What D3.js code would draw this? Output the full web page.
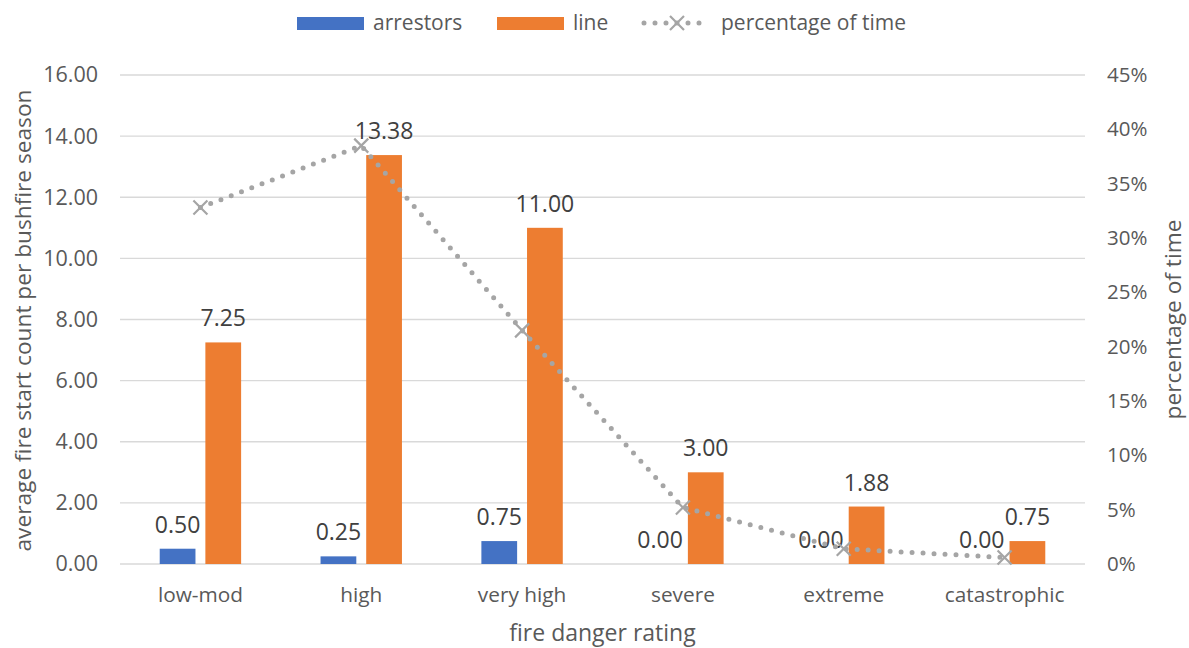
<!DOCTYPE html>
<html>
<head>
<meta charset="utf-8">
<script src="https://cdn.jsdelivr.net/npm/d3@7"></script>
<style>
  html, body { margin: 0; padding: 0; background: #fff; }
  svg { display: block; font-family: "Open Sans", sans-serif; }
</style>
</head>
<body>
<svg id="chart" width="1189" height="648"></svg>
<script>
// Fire danger rating categories
const categories = ["low-mod", "high", "very high", "severe", "extreme", "catastrophic"];
// Average fire start count per bushfire season, by cause
const arrestors = [0.50, 0.25, 0.75, 0.00, 0.00, 0.00];
const line = [7.25, 13.38, 11.00, 3.00, 1.88, 0.75];
// Share of time spent at each rating
const percentageOfTime = [0.328, 0.385, 0.215, 0.052, 0.014, 0.006];
// Axis ticks
const leftTicks = [0, 2, 4, 6, 8, 10, 12, 14, 16];
const rightTicks = [0, 0.05, 0.10, 0.15, 0.20, 0.25, 0.30, 0.35, 0.40, 0.45];

const seriesNames = ["arrestors", "line"];
const colors = { arrestors: "#4472c4", line: "#ed7d31", pct: "#a5a5a5" };
const textColor = "#595959";
const labelColor = "#404040";

const svg = d3.select("#chart");
const plot = { left: 120, right: 1085, top: 75, bottom: 564 };

const x0 = d3.scaleBand().domain(categories).range([plot.left, plot.right]).padding(0);
const x1 = d3.scaleBand().domain(seriesNames).range([0, x0.bandwidth()])
  .paddingInner(0.217).paddingOuter(0.87);
const yL = d3.scaleLinear().domain([0, 16]).range([plot.bottom, plot.top]);
const yR = d3.scaleLinear().domain([0, 0.45]).range([plot.bottom, plot.top]);

// Gridlines
svg.append("g").selectAll("line").data(leftTicks).join("line")
  .attr("x1", plot.left).attr("x2", plot.right)
  .attr("y1", d => yL(d)).attr("y2", d => yL(d))
  .attr("stroke", "#d9d9d9").attr("stroke-width", 1.3);

// Left axis
const leftAxis = svg.append("g")
  .attr("transform", `translate(${plot.left},0)`)
  .call(d3.axisLeft(yL).tickValues(leftTicks).tickFormat(d3.format(".2f")).tickSize(0).tickPadding(22));
leftAxis.select(".domain").remove();
leftAxis.selectAll("text").attr("font-size", 21.5).attr("fill", textColor)
  .attr("font-family", "'Open Sans', sans-serif");

// Right axis
const rightAxis = svg.append("g")
  .attr("transform", `translate(${plot.right},0)`)
  .call(d3.axisRight(yR).tickValues(rightTicks).tickFormat(d3.format(".0%")).tickSize(0).tickPadding(22));
rightAxis.select(".domain").remove();
rightAxis.selectAll("text").attr("font-size", 20.5).attr("fill", textColor)
  .attr("font-family", "'Open Sans', sans-serif");

// Bottom axis
const bottomAxis = svg.append("g")
  .attr("transform", `translate(0,${plot.bottom})`)
  .call(d3.axisBottom(x0).tickSize(0).tickPadding(23));
bottomAxis.select(".domain").remove();
bottomAxis.selectAll("text").attr("font-size", 20.8).attr("fill", textColor)
  .attr("font-family", "'Open Sans', sans-serif");

// Bars
const rows = categories.map((c, i) => ({ c, arrestors: arrestors[i], line: line[i] }));
const groups = svg.append("g").selectAll("g").data(rows).join("g")
  .attr("transform", d => `translate(${x0(d.c)},0)`);
groups.selectAll("rect").data(d => seriesNames.map(s => ({ s, v: d[s] }))).join("rect")
  .attr("x", d => x1(d.s)).attr("width", x1.bandwidth())
  .attr("y", d => yL(d.v)).attr("height", d => yL(0) - yL(d.v))
  .attr("fill", d => colors[d.s]);

// Percentage-of-time line (dotted with X markers)
const pts = categories.map((c, i) => [x0(c) + x0.bandwidth() / 2, yR(percentageOfTime[i])]);
svg.append("path")
  .attr("d", d3.line()(pts))
  .attr("fill", "none").attr("stroke", colors.pct).attr("stroke-width", 5)
  .attr("stroke-linecap", "round").attr("stroke-dasharray", "0,11");
const m = 7;
svg.append("g").selectAll("path").data(pts).join("path")
  .attr("d", p => `M${p[0]-m},${p[1]-m}L${p[0]+m},${p[1]+m}M${p[0]-m},${p[1]+m}L${p[0]+m},${p[1]-m}`)
  .attr("stroke", colors.pct).attr("stroke-width", 2.2).attr("fill", "none");

// Data labels
groups.selectAll("text.val").data(d => seriesNames.map(s => ({ s, v: d[s] }))).join("text")
  .attr("class", "val")
  .attr("x", d => x1(d.s) + x1.bandwidth() / 2)
  .attr("y", d => yL(d.v) - 16)
  .attr("text-anchor", "middle")
  .attr("font-size", 23).attr("fill", labelColor)
  .text(d => d3.format(".2f")(d.v));

// Axis titles
svg.append("text")
  .attr("transform", `translate(31,${(plot.top + plot.bottom) / 2 + 1}) rotate(-90)`)
  .attr("text-anchor", "middle").attr("font-size", 22.7).attr("fill", textColor)
  .text("average fire start count per bushfire season");
svg.append("text")
  .attr("transform", `translate(1181,${(plot.top + plot.bottom) / 2}) rotate(-90)`)
  .attr("text-anchor", "middle").attr("font-size", 22.7).attr("fill", textColor)
  .text("percentage of time");
svg.append("text")
  .attr("x", (plot.left + plot.right) / 2).attr("y", 641)
  .attr("text-anchor", "middle").attr("font-size", 23).attr("fill", textColor)
  .text("fire danger rating");

// Legend
const legend = svg.append("g");
const legendItems = [
  { name: "arrestors", x: 297, type: "bar", color: colors.arrestors },
  { name: "line", x: 497, type: "bar", color: colors.line },
  { name: "percentage of time", x: 644, type: "line", color: colors.pct }
];
legendItems.forEach(it => {
  const g = legend.append("g");
  if (it.type === "bar") {
    g.append("rect").attr("x", it.x).attr("y", 17).attr("width", 67).attr("height", 13).attr("fill", it.color);
  } else {
    g.append("line").attr("x1", it.x).attr("x2", it.x + 66).attr("y1", 23).attr("y2", 23)
      .attr("stroke", it.color).attr("stroke-width", 5).attr("stroke-linecap", "round").attr("stroke-dasharray", "0,11");
    const cx = it.x + 33, cy = 23;
    g.append("path")
      .attr("d", `M${cx-m},${cy-m}L${cx+m},${cy+m}M${cx-m},${cy+m}L${cx+m},${cy-m}`)
      .attr("stroke", it.color).attr("stroke-width", 2.2);
  }
  g.append("text").attr("x", it.x + (it.type === "bar" ? 76 : 77)).attr("y", 30)
    .attr("font-size", 21).attr("fill", textColor).text(it.name);
});
</script>
</body>
</html>
